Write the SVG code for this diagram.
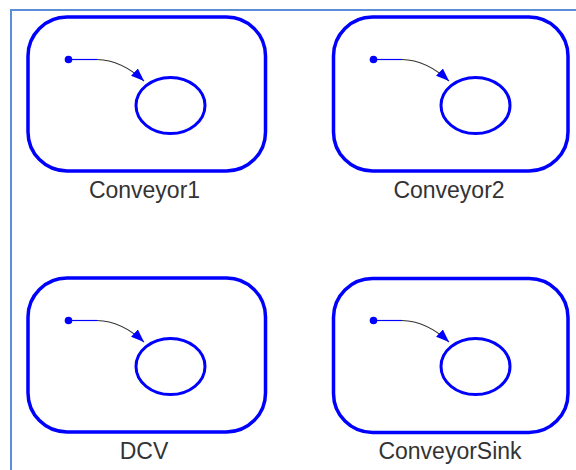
<svg xmlns="http://www.w3.org/2000/svg" xmlns:xlink="http://www.w3.org/1999/xlink" width="576" height="470" viewBox="0 0 576 470">
  <style>
    .frame { stroke: #5b8ed6; stroke-width: 2; fill: none; }
    .outer { fill: none; stroke: #0000ff; stroke-width: 3.5; }
    .inner { fill: none; stroke: #0000ff; stroke-width: 3; }
    .dot { fill: #0000ff; }
    .lead { fill: none; stroke: #0000ff; stroke-width: 1.2; }
    .curve { fill: none; stroke: #333333; stroke-width: 1.2; }
    .label { font-family: "Liberation Sans", Arial, sans-serif; font-size: 23px; fill: #333333; text-anchor: middle; }
  </style>
  <defs>
    <marker id="tip" viewBox="0 0 13 10" refX="13" refY="5" markerWidth="13" markerHeight="10" markerUnits="userSpaceOnUse" orient="auto">
      <path d="M0,0 L13,5 L0,10 Z" fill="#0000ff"/>
    </marker>
    <!-- inner part of each block: ellipse and start dot -->
    <g id="core">
      <ellipse class="inner" cx="170.5" cy="105.5" rx="34.5" ry="28"/>
      <circle class="dot" cx="68.5" cy="59.5" r="3.8"/>
    </g>
    <!-- curved transition arrow -->
    <g id="flow">
      <path class="lead" d="M68.5,59.5 L97,59.5"/>
      <path class="curve" d="M97,59.5 C115,60 130,68 144,81" marker-end="url(#tip)"/>
    </g>
  </defs>

  <rect width="576" height="470" fill="#ffffff"/>
  <path class="frame" d="M11,470 L11,10 L576,10"/>

  <g id="Conveyor1">
    <rect class="outer" x="28" y="17" width="237.5" height="154" rx="39" ry="39"/>
    <use xlink:href="#core"/>
    <text class="label" x="144.5" y="198">Conveyor1</text>
  </g>

  <g id="Conveyor2">
    <rect class="outer" x="333.5" y="17" width="234.5" height="154" rx="39" ry="39"/>
    <use xlink:href="#core" transform="translate(305,0)"/>
    <text class="label" x="449" y="198">Conveyor2</text>
  </g>

  <g id="DCV">
    <rect class="outer" x="28" y="278" width="237.5" height="154" rx="39" ry="39"/>
    <use xlink:href="#core" transform="translate(0,261)"/>
    <text class="label" x="144" y="459">DCV</text>
  </g>

  <g id="ConveyorSink">
    <rect class="outer" x="333.5" y="278.5" width="234.5" height="154" rx="39" ry="39"/>
    <use xlink:href="#core" transform="translate(305,261)"/>
    <text class="label" x="450" y="459">ConveyorSink</text>
  </g>

  <g id="connectors">
    <use xlink:href="#flow"/>
    <use xlink:href="#flow" transform="translate(305,0)"/>
    <use xlink:href="#flow" transform="translate(0,261)"/>
    <use xlink:href="#flow" transform="translate(305,261)"/>
  </g>
</svg>
